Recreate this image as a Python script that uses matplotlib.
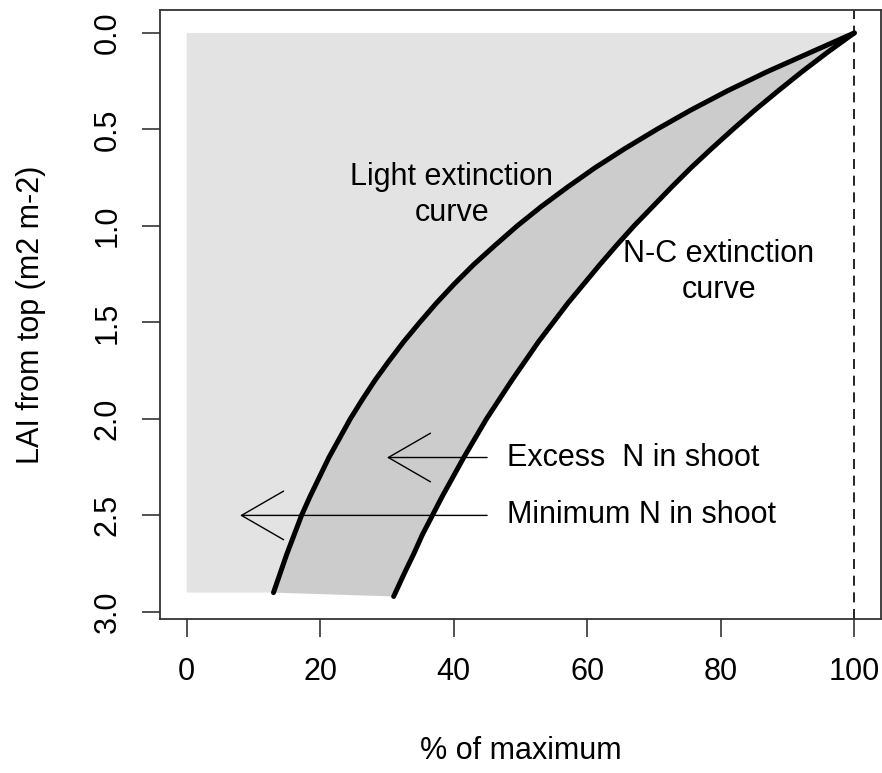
import matplotlib
matplotlib.use("Agg")
import matplotlib.pyplot as plt

plt.rcParams['font.family'] = ['Liberation Sans', 'DejaVu Sans']

# ---- data ----
# light extinction curve (% of maximum vs cumulative LAI from the top)
lai_light = [0.0, 0.1, 0.2, 0.3, 0.4, 0.5, 0.6, 0.7, 0.8, 0.9, 1.0, 1.1, 1.2, 1.3, 1.4,
             1.5, 1.6, 1.7, 1.8, 1.9, 2.0, 2.1, 2.2, 2.3, 2.4, 2.5, 2.6, 2.7, 2.8, 2.9]
pct_light = [100.0, 93.5, 87.0, 81.0, 75.5, 70.4, 65.6, 61.1, 57.0, 53.1, 49.5, 46.2, 43.0,
             40.1, 37.4, 34.9, 32.5, 30.3, 28.2, 26.3, 24.5, 22.9, 21.3, 19.9, 18.5, 17.2,
             16.1, 15.0, 14.0, 13.0]

# N-C extinction curve
lai_nc = [0.0, 0.1, 0.2, 0.3, 0.4, 0.5, 0.6, 0.7, 0.8, 0.9, 1.0, 1.1, 1.2, 1.3, 1.4,
          1.5, 1.6, 1.7, 1.8, 1.9, 2.0, 2.1, 2.2, 2.3, 2.4, 2.5, 2.6, 2.7, 2.8, 2.92]
pct_nc = [100.0, 96.0, 92.2, 88.6, 85.1, 81.8, 78.6, 75.5, 72.6, 69.8, 67.0, 64.4, 61.9,
          59.5, 57.1, 54.9, 52.7, 50.7, 48.7, 46.8, 44.9, 43.2, 41.5, 39.9, 38.3, 36.8,
          35.3, 34.0, 32.6, 31.0]

# arrows: y level, start x, tip x, label
arrow_y = [2.2, 2.5]
arrow_from = [45.0, 45.0]
arrow_to = [30.0, 8.0]
arrow_labels = ["Excess  N in shoot", "Minimum N in shoot"]

xticks = [0, 20, 40, 60, 80, 100]
yticks = [0.0, 0.5, 1.0, 1.5, 2.0, 2.5, 3.0]

LIGHT_GREY = '#e3e3e3'
DARK_GREY = '#cccccc'
FS = 22

fig = plt.figure(figsize=(8.82, 7.73), dpi=100)
W, H = 882.0, 773.0
ax = fig.add_axes([160 / W, 1 - 619 / H, (881 - 160) / W, (619 - 10.4) / H])

# light grey background area, bounded by the light curve on the right
bg_x = [0] + pct_light + [0]
bg_y = [0] + lai_light + [lai_light[-1]]
ax.fill(bg_x, bg_y, color=LIGHT_GREY, lw=0)

# band between the two curves
band_x = pct_light + pct_nc[::-1]
band_y = lai_light + lai_nc[::-1]
ax.fill(band_x, band_y, color=DARK_GREY, lw=0)

ax.plot(pct_light, lai_light, color='black', lw=3.6, solid_capstyle='round')
ax.plot(pct_nc, lai_nc, color='black', lw=3.6, solid_capstyle='round')

ax.axvline(100, color='black', lw=1.2, dashes=(6, 4))

for yy, x0, x1, lab in zip(arrow_y, arrow_from, arrow_to, arrow_labels):
    ax.annotate('', xy=(x1, yy), xytext=(x0, yy),
                arrowprops=dict(arrowstyle='->,head_length=3.03,head_width=1.75',
                                mutation_scale=10, shrinkA=0, shrinkB=0,
                                lw=1.0, color='black'))
    ax.text(48.0, yy, lab, fontsize=FS, ha='left', va='center')

ax.text(39.7, 0.84, "Light extinction\ncurve", fontsize=FS, ha='center', va='center',
        linespacing=1.27)
ax.text(79.7, 1.24, "N-C extinction\ncurve", fontsize=FS, ha='center', va='center',
        linespacing=1.27)

ax.set_xlim(-4, 104)
ax.set_ylim(2.92 + 0.1168, -0.1168)
ax.set_xticks(xticks)
ax.set_xticklabels([str(t) for t in xticks])
ax.set_yticks(yticks)
ax.set_yticklabels(['%.1f' % t for t in yticks], rotation=90, va='center')
ax.tick_params(axis='both', length=13, width=1.2, labelsize=FS, pad=14, color='#333333')

for s in ax.spines.values():
    s.set_linewidth(1.3)
    s.set_color('#333333')

ax.set_xlabel('% of maximum', fontsize=FS)
ax.set_ylabel('LAI from top (m2 m-2)', fontsize=FS)
ax.xaxis.set_label_coords(0.5, -0.192)
ax.yaxis.set_label_coords(-0.158, 0.5)

fig.savefig('out.png', dpi=100)
